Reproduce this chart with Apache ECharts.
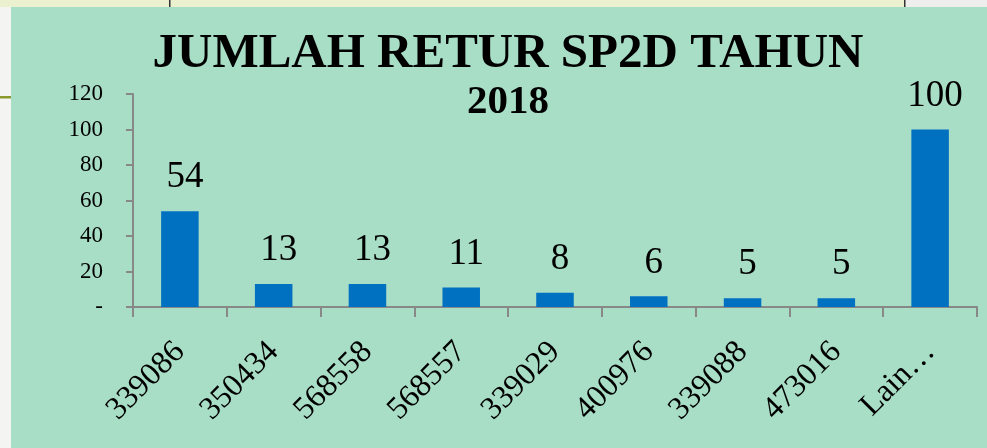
<!DOCTYPE html>
<html><head><meta charset="utf-8">
<script src="https://cdn.jsdelivr.net/npm/echarts@6/dist/echarts.min.js"></script>
<style>html,body{margin:0;padding:0;background:#f4f4f2;}#c{width:987px;height:448px;}</style>
</head><body><div id="c"></div>
<script>
const categories = ['339086','350434','568558','568557','339029','400976','339088','473016','Lain…'];
const values = [54, 13, 13, 11, 8, 6, 5, 5, 100];
const titleLine1 = 'JUMLAH RETUR SP2D TAHUN';
const titleLine2 = '2018';
const yMin = 0, yMax = 120, yInterval = 20;

const chart = echarts.init(document.getElementById('c'));
const serif = '"Liberation Serif", "DejaVu Serif", serif';
chart.setOption({
  backgroundColor: '#f4f4f2',
  animation: false,
  graphic: [
    {type:'rect', z:-10, shape:{x:0,y:0,width:905,height:7}, style:{fill:'#ebf1cf'}},
    {type:'rect', z:-10, shape:{x:905,y:0,width:82,height:7}, style:{fill:'#eeeeee'}},
    {type:'rect', z:-9, shape:{x:169,y:0,width:1.5,height:7}, style:{fill:'#333'}},
    {type:'rect', z:-9, shape:{x:904,y:0,width:1.5,height:7}, style:{fill:'#333'}},
    {type:'rect', z:-10, shape:{x:0,y:96,width:11,height:2.5}, style:{fill:'#8a9a2c'}},
    {type:'rect', z:-8, shape:{x:11,y:7,width:976,height:441}, style:{fill:'#a8ddc6'}}
  ],
  title: {
    text: '{a|' + titleLine1 + '}\n{b|' + titleLine2 + '}',
    left: 503, top: 24, textAlign: 'center',
    textStyle: {
      fontFamily: serif, fontWeight: 'bold', color: '#000',
      rich: {
        a: {fontFamily: serif, fontWeight: 'bold', fontSize: 49, lineHeight: 50, color: '#000'},
        b: {fontFamily: serif, fontWeight: 'bold', fontSize: 41, lineHeight: 47, color: '#000'}
      }
    }
  },
  grid: {left: 133, right: 10, top: 94, bottom: 141},
  xAxis: {
    type: 'category', data: categories,
    axisLine: {lineStyle: {color: '#888', width: 2}},
    axisTick: {show: true, length: 10, lineStyle: {color: '#888', width: 2}},
    axisLabel: {rotate: 45, margin: 40, fontFamily: serif, fontSize: 32, color: '#000', interval: 0}
  },
  yAxis: {
    type: 'value', min: yMin, max: yMax, interval: yInterval,
    splitLine: {show: false},
    axisLine: {show: true, lineStyle: {color: '#888', width: 2}},
    axisTick: {show: true, length: 7, lineStyle: {color: '#888', width: 2}},
    axisLabel: {margin: 30, fontFamily: serif, fontSize: 23, color: '#000',
      formatter: v => v === 0 ? '-' : String(v)}
  },
  series: [{
    type: 'bar', data: values, barWidth: '40%',
    itemStyle: {color: '#0070c0'},
    label: {show: true, position: 'top', distance: 15, offset: [5, 0], fontFamily: serif, fontSize: 37, color: '#000'}
  }]
});
</script></body></html>
